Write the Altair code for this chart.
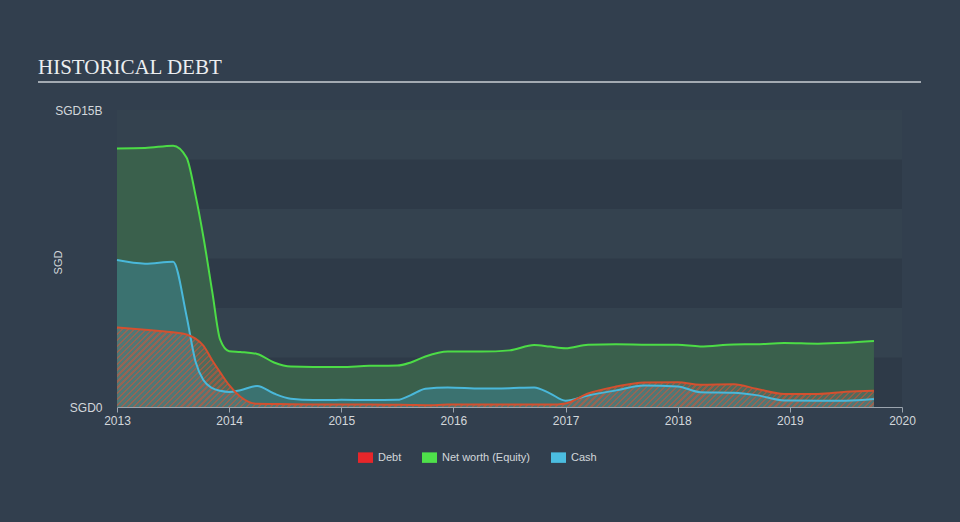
import altair as alt
import pandas as pd

# ---------------- data (values in SGD billions) ----------------
years = [2013.0, 2013.25, 2013.5, 2013.62, 2013.7, 2013.77, 2013.85, 2013.92,
         2014.0, 2014.1, 2014.25, 2014.4, 2014.55, 2014.75, 2015.0, 2015.25,
         2015.5, 2015.62, 2015.75, 2015.95, 2016.25, 2016.5, 2016.72, 2016.86,
         2017.0, 2017.2, 2017.45, 2017.7, 2018.0, 2018.2, 2018.5, 2018.7,
         2018.95, 2019.25, 2019.5, 2019.75]
equity = [13.06, 13.08, 13.2, 12.6, 10.7, 8.6, 5.8, 3.4,
          2.82, 2.78, 2.68, 2.25, 2.04, 2.02, 2.02, 2.08,
          2.09, 2.25, 2.55, 2.8, 2.8, 2.86, 3.13, 3.05,
          2.97, 3.15, 3.17, 3.15, 3.14, 3.06, 3.16, 3.17,
          3.23, 3.2, 3.24, 3.33]
cash = [7.42, 7.24, 7.34, 4.6, 2.3, 1.36, 0.95, 0.82,
        0.76, 0.85, 1.06, 0.68, 0.42, 0.35, 0.36, 0.35,
        0.36, 0.6, 0.92, 0.99, 0.93, 0.95, 0.99, 0.69,
        0.32, 0.58, 0.84, 1.08, 1.04, 0.75, 0.72, 0.6,
        0.33, 0.32, 0.32, 0.4]
debt = [4.02, 3.9, 3.77, 3.66, 3.45, 3.1, 2.35, 1.75,
        1.1, 0.52, 0.16, 0.15, 0.14, 0.13, 0.12, 0.12,
        0.11, 0.1, 0.09, 0.12, 0.13, 0.12, 0.12, 0.12,
        0.18, 0.68, 1.03, 1.24, 1.25, 1.13, 1.15, 0.92,
        0.66, 0.66, 0.77, 0.82]

series_names = ["Debt", "Net worth (Equity)", "Cash"]
series_colors = ["#e8262a", "#4ee04a", "#4bbde0"]
x_ticks = [2013, 2014, 2015, 2016, 2017, 2018, 2019, 2020]
y_ticks = [0, 15]
band_low = [0, 5, 10]
band_high = [2.5, 7.5, 12.5]

# ---------------- tables ----------------
wide = pd.DataFrame({"year": years, "debt": debt, "equity": equity, "cash": cash})
long = pd.DataFrame({
    "year": years * 3,
    "value": debt + equity + cash,
    "series": ["Debt"] * len(years) + ["Net worth (Equity)"] * len(years) + ["Cash"] * len(years),
})
frame_df = pd.DataFrame({"x0": [x_ticks[0]], "x1": [x_ticks[-1]], "y0": [y_ticks[0]], "y1": [y_ticks[-1]]})
bands_df = pd.DataFrame({"x0": [x_ticks[0]] * 3, "x1": [x_ticks[-1]] * 3, "y0": band_low, "y1": band_high})
dummy = pd.DataFrame({"a": [0]})

W, H = 785, 297
BG = "#323f4e"
FONT = "Liberation Sans"
LABEL = "#d3d7db"
AXISLINE = "#9ba4ae"

xs = alt.Scale(domain=[x_ticks[0], x_ticks[-1]], nice=False, zero=False)
ys = alt.Scale(domain=[y_ticks[0], y_ticks[-1]], nice=False)

x_axis = alt.Axis(values=x_ticks, format="d", title=None, grid=False,
                  domainColor=AXISLINE, tickColor=AXISLINE, tickSize=5,
                  labelColor=LABEL, labelFontSize=12, labelFont=FONT,
                  labelPadding=3, labelFlush=False)
y_axis = alt.Axis(values=y_ticks,
                  labelExpr="datum.value == 0 ? 'SGD0' : 'SGD' + datum.value + 'B'",
                  title="SGD", grid=False, domain=False, ticks=False,
                  labelPadding=15, labelColor=LABEL, labelFontSize=12, labelFont=FONT,
                  labelFlush=False, titleColor=LABEL, titleFontSize=11, titleFont=FONT,
                  titleFontWeight="normal", titleX=-59, titleY=152, titleBaseline="middle")

# ---------------- hatch gradient for the debt area ----------------
area_w = (max(years) - x_ticks[0]) / (x_ticks[-1] - x_ticks[0]) * W
area_h = max(debt) / y_ticks[-1] * H
c = 1.11
gx2, gy2 = c, c * area_h / area_w
L = gx2 ** 2 + gy2 ** 2
grad_t = (2 ** 0.5) * c / (area_w * L)
period = 4.2
dt = period * grad_t
stops = []
t = 0.0
red_c = "rgba(206,92,66,0.62)"
gap_c = "rgba(128,130,128,0.32)"
while t < 1.0:
    t1 = min(t + dt * 0.38, 1.0)
    t2 = min(t + dt, 1.0)
    stops += [alt.GradientStop(offset=t, color=red_c), alt.GradientStop(offset=t1, color=red_c),
              alt.GradientStop(offset=t1, color=gap_c), alt.GradientStop(offset=t2, color=gap_c)]
    t = t2
hatch = alt.Gradient(gradient="linear", stops=stops, x1=0, y1=0, x2=gx2, y2=gy2)

# ---------------- layers ----------------
X = alt.X("year:Q", scale=xs, axis=x_axis)

plot_bg = alt.Chart(frame_df).mark_rect(fill="#34424f").encode(
    x=alt.X("x0:Q", scale=xs, axis=x_axis), x2="x1:Q",
    y=alt.Y("y0:Q", scale=ys, axis=y_axis), y2="y1:Q")

bands = alt.Chart(bands_df).mark_rect(fill="#2e3a48").encode(
    x=alt.X("x0:Q", scale=xs, axis=x_axis), x2="x1:Q",
    y=alt.Y("y0:Q", scale=ys, axis=y_axis), y2="y1:Q")

eq_area = alt.Chart(wide).mark_area(interpolate="monotone", fill="#3a604c").encode(
    x=X, y=alt.Y("equity:Q", scale=ys, axis=y_axis))
cash_area = alt.Chart(wide).mark_area(interpolate="monotone", fill="#3b7270").encode(
    x=X, y=alt.Y("cash:Q", scale=ys, axis=y_axis))
debt_area = alt.Chart(wide).mark_area(interpolate="monotone", fill=hatch).encode(
    x=X, y=alt.Y("debt:Q", scale=ys, axis=y_axis))

eq_line = alt.Chart(wide).mark_line(interpolate="monotone", color="#4cdc46", strokeWidth=2).encode(
    x=X, y=alt.Y("equity:Q", scale=ys, axis=y_axis))
cash_line = alt.Chart(wide).mark_line(interpolate="monotone", color="#4ab8da", strokeWidth=2).encode(
    x=X, y=alt.Y("cash:Q", scale=ys, axis=y_axis))
debt_line = alt.Chart(wide).mark_line(interpolate="monotone", color="#d4502f", strokeWidth=2).encode(
    x=X, y=alt.Y("debt:Q", scale=ys, axis=y_axis))

legend_layer = alt.Chart(long).mark_point(filled=True, opacity=0).encode(
    x=X, y=alt.Y("value:Q", scale=ys, axis=y_axis),
    color=alt.Color("series:N",
                    scale=alt.Scale(domain=series_names, range=series_colors),
                    legend=alt.Legend(title=None, orient="none", direction="horizontal",
                                      legendX=241, legendY=340,
                                      symbolType="M-1,-0.7H1V0.7H-1Z", symbolSize=225,
                                      symbolStrokeWidth=0, symbolOpacity=1,
                                      labelColor=LABEL, labelFont=FONT, labelFontSize=11,
                                      labelOffset=5, columnPadding=20)))

title_rule = alt.Chart(dummy).mark_rule(color="#a3aab2", strokeWidth=2).encode(
    x=alt.value(-79), x2=alt.value(804), y=alt.value(-28))

chart = alt.layer(
    plot_bg, bands, eq_area, cash_area, debt_area, eq_line, cash_line, debt_line,
    legend_layer, title_rule
).properties(
    width=W, height=H,
    title=alt.TitleParams("HISTORICAL DEBT", anchor="start", frame="group", dx=-79, offset=3,
                          font="Liberation Serif", fontSize=21, fontWeight="normal", color="#eceef0"),
    autosize=alt.AutoSizeParams(type="none"),
    padding={"left": 117, "top": 110, "right": 58, "bottom": 115},
).configure(background=BG).configure_view(stroke=None)

chart.save("out.html", embed_options={"renderer": "svg", "actions": False})
